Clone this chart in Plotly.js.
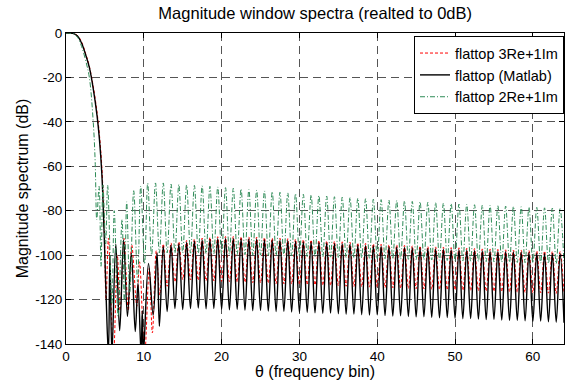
<!DOCTYPE html>
<html>
<head>
<meta charset="utf-8">
<script src="https://cdn.plot.ly/plotly-3.0.1.min.js"></script>
<style>html,body{margin:0;padding:0;background:#fff;}#chart{width:570px;height:380px;}</style>
</head>
<body>
<div id="chart"></div>
<script>
// ---- data (x in frequency bins, y in dB) ----
const seriesNames = ['flattop 3Re+1Im', 'flattop (Matlab)', 'flattop 2Re+1Im'];

// early part (main lobe and first sidelobes), read point by point
const redEarlyX = [0, 0.5, 1, 1.5, 2, 2.5, 3, 3.5, 4, 4.3, 4.6, 4.9, 5.15, 5.45, 6.1, 6.6, 6.95, 7.45, 8.0, 8.45, 9.1, 9.45, 10.1, 10.7, 11.1, 11.6, 12.05, 12.5, 13.0, 13.5, 14.0];
const redEarlyY = [0, -0.05, -0.2, -1.2, -4, -9, -15, -24, -36, -46, -60, -85, -120, -92.4, -145, -100, -125, -92.4, -125, -95.4, -123, -103, -145, -106, -135, -98, -118, -95, -114, -94.5, -112];

const blackEarlyX = [0, 0.5, 1, 1.5, 2, 2.5, 3, 3.5, 4, 4.3, 4.6, 4.9, 5.15, 5.45, 5.65, 5.9, 6.4, 6.9, 7.4, 7.9, 8.4, 8.9, 9.25, 9.65, 9.8, 9.95, 10.6, 11.2, 11.7, 12.0, 12.5, 13.0, 13.5, 14.0];
const blackEarlyY = [0, -0.05, -0.3, -1.5, -4.5, -9.5, -15.5, -25, -37.5, -48, -63, -90, -118, -145, -100, -145, -95, -134, -93.2, -127.6, -99, -134.4, -112.6, -145, -125, -145, -103.7, -127, -99, -132, -96, -125.4, -95.4, -124];

const greenEarlyX = [0, 0.5, 1, 1.5, 2, 2.5, 3, 3.5, 3.75, 3.95, 4.25, 4.5, 4.75, 5.1, 5.35, 5.9, 6.2, 6.7, 7.2, 7.5, 7.8, 8.2, 8.7, 9.2, 9.6, 10.1, 10.5, 11.0, 11.5, 12.0, 12.5, 13.0, 13.5, 14.0];
const greenEarlyY = [0, -0.1, -0.4, -2, -6, -12, -20, -40, -58, -84, -69, -105, -68.4, -95, -68.5, -122, -80, -127.6, -84, -121, -76, -117, -71, -112, -69, -104, -67.6, -100, -67.5, -99, -67.5, -99, -68, -99];

// later part: sidelobe peaks (half bins) and nulls (whole bins), 14.5 .. 64
const lateX = [14.5,15,15.5,16,16.5,17,17.5,18,18.5,19,19.5,20,20.5,21,21.5,22,22.5,23,23.5,24,24.5,25,25.5,26,26.5,27,27.5,28,28.5,29,29.5,30,30.5,31,31.5,32,32.5,33,33.5,34,34.5,35,35.5,36,36.5,37,37.5,38,38.5,39,39.5,40,40.5,41,41.5,42,42.5,43,43.5,44,44.5,45,45.5,46,46.5,47,47.5,48,48.5,49,49.5,50,50.5,51,51.5,52,52.5,53,53.5,54,54.5,55,55.5,56,56.5,57,57.5,58,58.5,59,59.5,60,60.5,61,61.5,62,62.5,63,63.5,64];

const redLateY = [
 -94.0,-111.0, -93.4,-111.2, -92.8,-111.3, -92.3,-111.5, -92.0,-111.6, -91.7,-111.8, -91.6,-111.9, -91.6,-112.1, -91.7,-112.2, -91.8,-112.4,
 -91.9,-112.5, -92.1,-112.6, -92.3,-112.8, -92.4,-112.9, -92.6,-113.0, -92.8,-113.2, -93.0,-113.3, -93.2,-113.4, -93.4,-113.6, -93.6,-113.7,
 -93.8,-113.8, -94.0,-114.0, -94.2,-114.1, -94.5,-114.2, -94.7,-114.4, -94.9,-114.5, -95.1,-114.6, -95.3,-114.7, -95.4,-114.9, -95.6,-115.0,
 -95.8,-115.1, -95.9,-115.2, -96.1,-115.4, -96.3,-115.5, -96.4,-115.6, -96.6,-115.7, -96.7,-115.8, -96.9,-116.0, -97.0,-116.1, -97.2,-116.2,
 -97.3,-116.3, -97.4,-116.4, -97.6,-116.6, -97.7,-116.7, -97.8,-116.8, -97.9,-116.9, -98.1,-117.0, -98.2,-117.1, -98.3,-117.2, -98.4,-117.3];

const blackLateY = [
 -94.8,-124.5, -94.2,-124.0, -93.6,-123.8, -93.2,-124.2, -92.9,-124.0, -92.6,-124.3, -92.5,-124.6, -92.5,-124.4, -92.6,-124.8, -92.7,-125.0,
 -92.8,-124.9, -93.0,-125.2, -93.2,-125.4, -93.3,-125.3, -93.5,-125.6, -93.7,-125.8, -93.9,-125.7, -94.1,-126.0, -94.3,-126.2, -94.5,-126.1,
 -94.7,-126.4, -94.9,-126.6, -95.1,-126.5, -95.4,-126.8, -95.6,-127.0, -95.8,-126.9, -96.0,-127.2, -96.2,-127.4, -96.3,-127.3, -96.5,-127.6,
 -96.7,-127.8, -96.8,-127.7, -97.0,-128.0, -97.2,-128.2, -97.3,-128.1, -97.5,-128.4, -97.6,-128.6, -97.8,-128.5, -97.9,-128.8, -98.1,-129.0,
 -98.2,-128.9, -98.3,-129.2, -98.5,-129.4, -98.6,-129.3, -98.7,-129.6, -98.8,-129.8, -99.0,-129.7, -99.1,-130.0, -99.2,-130.2, -99.3,-130.4];

const greenLateY = [
 -68.2,-99.0, -68.4,-99.1, -68.6,-99.2, -68.8,-99.3, -69.0,-99.4, -69.3,-99.5, -69.6,-99.6, -69.9,-99.7, -70.2,-99.8, -70.5,-99.9,
 -70.8,-100.0, -71.1,-100.1, -71.4,-100.2, -71.7,-100.3, -72.0,-100.4, -72.3,-100.5, -72.6,-100.6, -72.9,-100.7, -73.2,-100.8, -73.4,-100.9,
 -73.7,-101.0, -73.9,-101.1, -74.1,-101.2, -74.4,-101.3, -74.6,-101.4, -74.8,-101.5, -75.0,-101.6, -75.2,-101.7, -75.4,-101.8, -75.6,-101.9,
 -75.8,-102.0, -76.0,-102.1, -76.2,-102.2, -76.4,-102.3, -76.6,-102.4, -76.8,-102.5, -77.0,-102.6, -77.1,-102.7, -77.3,-102.8, -77.5,-102.9,
 -77.6,-103.0, -77.8,-103.1, -77.9,-103.2, -78.1,-103.3, -78.2,-103.4, -78.4,-103.5, -78.5,-103.6, -78.7,-103.7, -78.8,-103.8, -79.0,-103.9];

const xTicks = [0, 10, 20, 30, 40, 50, 60];
const yTicks = [-140, -120, -100, -80, -60, -40, -20, 0];

// ---- traces ----
const traces = [
  {x: redEarlyX.concat(lateX), y: redEarlyY.concat(redLateY), name: seriesNames[0],
   mode: 'lines', line: {color: '#ff0000', width: 1, dash: '3px,2px', shape: 'spline', smoothing: 1}},
  {x: blackEarlyX.concat(lateX), y: blackEarlyY.concat(blackLateY), name: seriesNames[1],
   mode: 'lines', line: {color: '#000000', width: 1.4, shape: 'spline', smoothing: 1}},
  {x: greenEarlyX.concat(lateX), y: greenEarlyY.concat(greenLateY), name: seriesNames[2],
   mode: 'lines', line: {color: 'rgb(46,139,87)', width: 1, dash: '5px,2px,1px,2px', shape: 'spline', smoothing: 1}}
];

const axisCommon = {
  showline: true, linecolor: '#000', linewidth: 1, mirror: 'ticks',
  ticks: 'inside', ticklen: 5, tickcolor: '#000', tickwidth: 1,
  showgrid: true, gridcolor: '#555', gridwidth: 1, griddash: '8px,5px',
  zeroline: false, tickfont: {size: 13.5, color: '#000'}
};

const layout = {
  width: 570, height: 380,
  margin: {l: 66, r: 6, t: 33, b: 36},
  paper_bgcolor: '#fff', plot_bgcolor: '#fff',
  font: {family: 'Arial, "Liberation Sans", sans-serif', size: 13.5, color: '#000'},
  title: {text: 'Magnitude window spectra (realted to 0dB)', x: 0.553, xanchor: 'center',
          y: 0.965, yref: 'container', yanchor: 'middle', font: {size: 16.5, color: '#000'}},
  xaxis: Object.assign({}, axisCommon, {range: [0, 64], tickvals: xTicks, ticktext: xTicks.map(String),
          title: {text: 'θ (frequency bin)', standoff: 0, font: {size: 16}}}),
  yaxis: Object.assign({}, axisCommon, {range: [-140, 0], tickvals: yTicks, ticktext: yTicks.map(String),
          title: {text: 'Magnitude spectrum (dB)', standoff: 2, font: {size: 16}}}),
  showlegend: true,
  legend: {x: 1, xanchor: 'right', y: 0.99, yanchor: 'top', bgcolor: '#fff', bordercolor: '#000', borderwidth: 1,
           font: {size: 14.5, color: '#000'}, itemwidth: 30, tracegroupgap: 0},
};

Plotly.newPlot('chart', traces, layout, {displayModeBar: false, staticPlot: true});
</script>
</body>
</html>
